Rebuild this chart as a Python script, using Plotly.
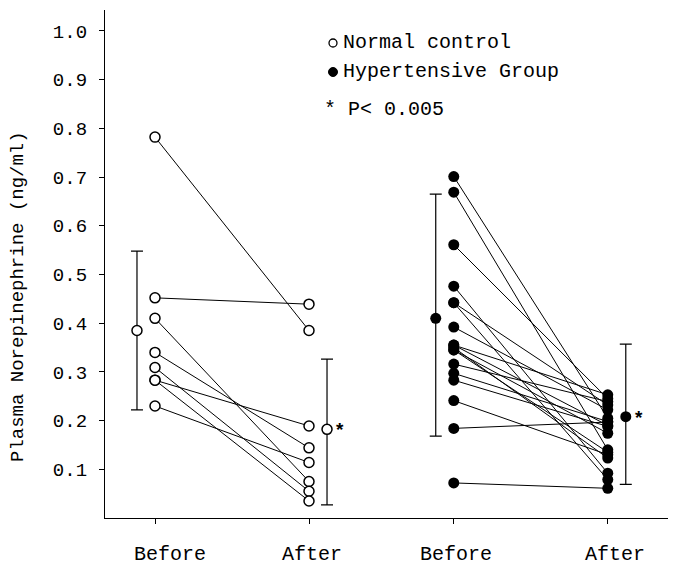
import plotly.graph_objects as go

# ---------------- data ----------------
conditions = ["Before", "After", "Before", "After"]
x_pos = [1.0, 2.0, 2.94, 3.94]          # category positions on the x axis
mean_offset = 0.117                       # means drawn beside the individual points

normal_before = [0.782, 0.452, 0.410, 0.340, 0.309, 0.283, 0.283, 0.230]
normal_after  = [0.385, 0.439, 0.075, 0.144, 0.055, 0.189, 0.035, 0.114]

hyper_before = [0.701, 0.669, 0.561, 0.476, 0.442, 0.442, 0.392, 0.355, 0.355,
                0.350, 0.345, 0.345, 0.316, 0.297, 0.283, 0.241, 0.184, 0.072]
hyper_after  = [0.205, 0.140, 0.245, 0.092, 0.232, 0.079, 0.222, 0.253, 0.190,
                0.123, 0.174, 0.135, 0.239, 0.198, 0.188, 0.130, 0.197, 0.061]

normal_means = [0.385, 0.182]
normal_err_up = [0.163, 0.144]
normal_err_down = [0.163, 0.155]

hyper_means = [0.410, 0.208]
hyper_err_up = [0.255, 0.149]
hyper_err_down = [0.242, 0.139]

y_ticks = [0.1, 0.2, 0.3, 0.4, 0.5, 0.6, 0.7, 0.8, 0.9, 1.0]
y_ticktext = ["0.1", "0.2", "0.3", "0.4", "0.5", "0.6", "0.7", "0.8", "0.9", "1.0"]

legend_normal = "Normal control"
legend_hyper = "Hypertensive Group"
p_note = "* P< 0.005"
y_title = "Plasma Norepinephrine (ng/ml)"

# ---------------- layout geometry ----------------
W, H = 676, 565
ML, MR, MT, MB = 105, 8, 10, 47
PW, PH = W - ML - MR, H - MT - MB
PX_PER_UNIT = 154.0
x_range = [x_pos[0] - 50 / PX_PER_UNIT, x_pos[0] + (W - MR - 155) / PX_PER_UNIT]
y_range = [0, 1.043]

FONT = "Liberation Mono, Courier New, monospace"


def px_x(p):
    return (p - ML) / PW


def px_y(p):
    return (H - MB - p) / PH


def pairs(xb, xa, before, after):
    xs, ys = [], []
    for b, a in zip(before, after):
        xs += [xb, xa, None]
        ys += [b, a, None]
    return xs, ys


fig = go.Figure()

# individual subjects: normal control (open circles)
xs, ys = pairs(x_pos[0], x_pos[1], normal_before, normal_after)
fig.add_trace(go.Scatter(
    x=xs, y=ys, mode="lines+markers", name=legend_normal, showlegend=False,
    line=dict(color="black", width=1),
    marker=dict(symbol="circle", size=10, color="white", line=dict(color="black", width=1.5)),
))

# individual subjects: hypertensive (filled circles)
xs, ys = pairs(x_pos[2], x_pos[3], hyper_before, hyper_after)
fig.add_trace(go.Scatter(
    x=xs, y=ys, mode="lines+markers", name=legend_hyper, showlegend=False,
    line=dict(color="black", width=1),
    marker=dict(symbol="circle", size=11, color="black"),
))

# means with error bars
fig.add_trace(go.Scatter(
    x=[x_pos[0] - mean_offset, x_pos[1] + mean_offset], y=normal_means,
    mode="markers", showlegend=False,
    marker=dict(symbol="circle", size=10, color="white", line=dict(color="black", width=1.5)),
    error_y=dict(type="data", symmetric=False, array=normal_err_up, arrayminus=normal_err_down,
                 color="black", thickness=1.2, width=6),
))
fig.add_trace(go.Scatter(
    x=[x_pos[2] - mean_offset, x_pos[3] + mean_offset], y=hyper_means,
    mode="markers", showlegend=False,
    marker=dict(symbol="circle", size=11, color="black"),
    error_y=dict(type="data", symmetric=False, array=hyper_err_up, arrayminus=hyper_err_down,
                 color="black", thickness=1.2, width=6),
))

annotations = []
# significance asterisks
for xm, ym in [(x_pos[1] + mean_offset, normal_means[1]), (x_pos[3] + mean_offset, hyper_means[1])]:
    annotations.append(dict(x=xm, y=ym, xref="x", yref="y", text="<b>*</b>", showarrow=False,
                            xanchor="left", yanchor="middle", xshift=5, yshift=-2,
                            font=dict(family=FONT, size=19, color="black")))

# x category labels
label_shift = [15, 3, 2, 7]
for xp, lab, sh in zip(x_pos, conditions, label_shift):
    annotations.append(dict(x=xp, y=0, xref="x", yref="y", text=lab, showarrow=False,
                            xanchor="center", yanchor="middle", xshift=sh, yshift=-36,
                            font=dict(family=FONT, size=20, color="black")))

# y title
annotations.append(dict(x=px_x(18), y=px_y(297), xref="paper", yref="paper", text=y_title,
                        textangle=-90, showarrow=False, xanchor="center", yanchor="middle",
                        font=dict(family=FONT, size=19, color="black")))

# legend texts
annotations.append(dict(x=px_x(341), y=px_y(42), xref="paper", yref="paper", text=legend_normal,
                        showarrow=False, xanchor="left", yanchor="middle",
                        font=dict(family=FONT, size=20, color="black")))
annotations.append(dict(x=px_x(341), y=px_y(71), xref="paper", yref="paper", text=legend_hyper,
                        showarrow=False, xanchor="left", yanchor="middle",
                        font=dict(family=FONT, size=20, color="black")))
annotations.append(dict(x=px_x(322), y=px_y(110), xref="paper", yref="paper", text=p_note,
                        showarrow=False, xanchor="left", yanchor="middle",
                        font=dict(family=FONT, size=20, color="black")))

shapes = [
    dict(type="circle", xref="paper", yref="paper", xsizemode="pixel", ysizemode="pixel",
         xanchor=px_x(333), yanchor=px_y(43), x0=-4, x1=4, y0=-4, y1=4,
         line=dict(color="black", width=1.3), fillcolor="white"),
    dict(type="circle", xref="paper", yref="paper", xsizemode="pixel", ysizemode="pixel",
         xanchor=px_x(333), yanchor=px_y(72), x0=-4.5, x1=4.5, y0=-4.5, y1=4.5,
         line=dict(color="black", width=1), fillcolor="black"),
]

fig.update_layout(
    width=W, height=H,
    margin=dict(l=ML, r=MR, t=MT, b=MB),
    paper_bgcolor="white", plot_bgcolor="white",
    showlegend=False,
    annotations=annotations,
    shapes=shapes,
    xaxis=dict(range=x_range, showgrid=False, zeroline=False, showline=True,
               linecolor="black", linewidth=1.3, ticks="outside", ticklen=5,
               tickcolor="black", tickvals=x_pos, showticklabels=False),
    yaxis=dict(range=y_range, showgrid=False, zeroline=False, showline=True,
               linecolor="black", linewidth=1.3, ticks="outside", ticklen=5,
               tickcolor="black", tickvals=y_ticks, ticktext=y_ticktext,
               ticklabelstandoff=8,
               tickfont=dict(family=FONT, size=19, color="black")),
)

fig.write_html("out.html")
